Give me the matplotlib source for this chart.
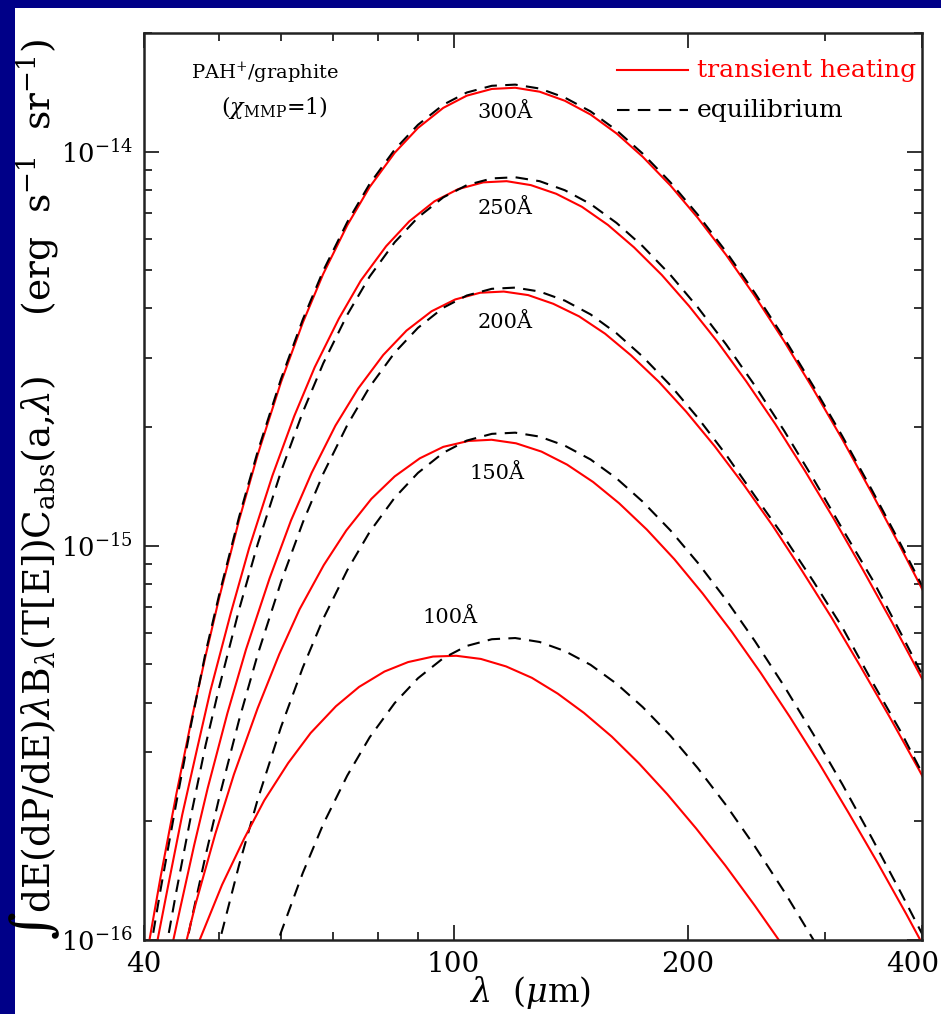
import matplotlib
matplotlib.use('Agg')
import matplotlib.pyplot as plt
import numpy as np
from matplotlib.patches import Rectangle
from matplotlib.ticker import NullFormatter
from matplotlib.transforms import ScaledTranslation

plt.rcParams['font.family'] = 'DejaVu Serif'
plt.rcParams['mathtext.fontset'] = 'dejavuserif'

# wavelengths (micron) and log10 of the emission (erg s^-1 sr^-1)
lam = [38, 40, 42, 44, 46, 48, 50, 53, 56, 60, 64, 68, 73, 78, 84, 90, 97, 104, 112, 120,
       129, 139, 150, 162, 175, 190, 206, 224, 244, 266, 290, 316, 345, 376, 410]

equil_300 = [-16.401, -16.121, -15.874, -15.654, -15.452, -15.271, -15.122, -14.927, -14.761, -14.577,
             -14.426, -14.302, -14.179, -14.082, -13.995, -13.932, -13.881, -13.850, -13.833, -13.830,
             -13.840, -13.863, -13.898, -13.946, -14.005, -14.078, -14.160, -14.254, -14.359, -14.473,
             -14.595, -14.722, -14.859, -14.998, -15.142]
equil_250 = [-16.626, -16.346, -16.099, -15.879, -15.682, -15.506, -15.357, -15.162, -14.996, -14.812,
             -14.661, -14.537, -14.414, -14.317, -14.230, -14.167, -14.116, -14.085, -14.068, -14.065,
             -14.075, -14.098, -14.133, -14.181, -14.240, -14.313, -14.395, -14.489, -14.594, -14.708,
             -14.830, -14.957, -15.084, -15.223, -15.367]
equil_200 = [-16.856, -16.586, -16.349, -16.139, -15.952, -15.786, -15.637, -15.442, -15.276, -15.092,
             -14.941, -14.817, -14.694, -14.597, -14.510, -14.447, -14.396, -14.365, -14.348, -14.345,
             -14.355, -14.378, -14.413, -14.461, -14.520, -14.593, -14.675, -14.769, -14.874, -14.978,
             -15.090, -15.207, -15.344, -15.473, -15.617]
equil_150 = [-17.224, -16.954, -16.717, -16.507, -16.320, -16.154, -16.005, -15.810, -15.644, -15.460,
             -15.309, -15.185, -15.062, -14.965, -14.878, -14.815, -14.764, -14.733, -14.716, -14.713,
             -14.723, -14.746, -14.781, -14.829, -14.888, -14.961, -15.043, -15.137, -15.242, -15.356,
             -15.478, -15.605, -15.742, -15.881, -16.025]
equil_100 = [-17.745, -17.475, -17.238, -17.028, -16.841, -16.675, -16.526, -16.331, -16.165, -15.981,
             -15.830, -15.706, -15.583, -15.486, -15.399, -15.336, -15.285, -15.254, -15.237, -15.234,
             -15.244, -15.267, -15.302, -15.350, -15.409, -15.482, -15.564, -15.658, -15.763, -15.877,
             -15.999, -16.126, -16.263, -16.402, -16.546]

trans_300 = [-16.349, -16.079, -15.842, -15.632, -15.445, -15.279, -15.130, -14.935, -14.769, -14.585,
             -14.434, -14.310, -14.187, -14.090, -14.003, -13.940, -13.889, -13.858, -13.841, -13.838,
             -13.848, -13.871, -13.906, -13.954, -14.013, -14.086, -14.168, -14.262, -14.367, -14.481,
             -14.603, -14.730, -14.867, -15.006, -15.150]

lam_t250 = [37.0, 39.0, 40.9, 42.9, 44.8, 46.8, 48.7, 51.7, 54.6, 58.5, 62.4, 66.3, 71.2, 76.0, 81.9,
            87.7, 94.5, 101.4, 109.2, 117.0, 125.7, 135.5, 146.2, 157.9, 170.6, 185.2, 200.8, 218.3,
            237.8, 259.3, 282.7, 308.0, 336.3, 366.5, 399.6, 438.6]
trans_250 = [-16.586, -16.316, -16.079, -15.869, -15.682, -15.516, -15.367, -15.172, -15.006, -14.822,
             -14.671, -14.547, -14.424, -14.327, -14.240, -14.177, -14.126, -14.095, -14.078, -14.075,
             -14.085, -14.107, -14.140, -14.186, -14.243, -14.313, -14.392, -14.482, -14.583, -14.692,
             -14.809, -14.931, -15.063, -15.196, -15.335, -15.489]

lam_t200 = [36.7, 38.7, 40.6, 42.5, 44.5, 46.4, 48.3, 51.2, 54.1, 58.0, 61.8, 65.7, 70.5, 75.4, 81.2,
            87.0, 93.7, 100.5, 108.2, 116.0, 124.7, 134.3, 145.0, 156.6, 169.1, 183.6, 199.1, 216.5,
            235.8, 257.1, 280.2, 305.4, 333.4, 363.4, 396.2, 434.9]
trans_200 = [-16.803, -16.540, -16.309, -16.104, -15.922, -15.760, -15.615, -15.425, -15.263, -15.083,
             -14.936, -14.815, -14.695, -14.601, -14.516, -14.454, -14.405, -14.375, -14.358, -14.355,
             -14.364, -14.386, -14.418, -14.462, -14.517, -14.584, -14.660, -14.747, -14.844, -14.949,
             -15.062, -15.179, -15.306, -15.434, -15.567, -15.716]

lam_t150 = [35.4, 37.3, 39.2, 41.0, 42.9, 44.8, 46.6, 49.4, 52.2, 56.0, 59.7, 63.4, 68.1, 72.8, 78.4,
            84.0, 90.5, 97.0, 104.5, 111.9, 120.3, 129.7, 139.9, 151.1, 163.2, 177.2, 192.2, 209.0,
            227.6, 248.1, 270.5, 294.8, 321.8, 350.7, 382.5, 419.8]
trans_150 = [-17.021, -16.775, -16.559, -16.367, -16.197, -16.045, -15.909, -15.731, -15.580, -15.412,
             -15.275, -15.161, -15.049, -14.961, -14.881, -14.824, -14.778, -14.749, -14.734, -14.731,
             -14.740, -14.761, -14.794, -14.838, -14.892, -14.959, -15.034, -15.121, -15.217, -15.322,
             -15.434, -15.551, -15.677, -15.804, -15.937, -16.085]

lam_t100 = [38.7, 40.3, 42.0, 44.5, 47.1, 50.4, 53.8, 57.1, 61.3, 65.5, 70.6, 75.6, 81.5, 87.4, 94.1,
            100.8, 108.4, 116.8, 126.1, 136.1, 147.1, 159.7, 173.1, 188.2, 205.0, 223.5, 243.7, 265.5,
            289.9, 316.0]
trans_100 = [-16.529, -16.400, -16.284, -16.132, -16.003, -15.860, -15.743, -15.646, -15.551, -15.475,
             -15.407, -15.358, -15.319, -15.295, -15.281, -15.279, -15.287, -15.306, -15.335, -15.375,
             -15.424, -15.484, -15.552, -15.630, -15.717, -15.811, -15.912, -16.017, -16.130, -16.245]

sizes = ['300Å', '250Å', '200Å', '150Å', '100Å']
trans = [(lam, trans_300), (lam_t250, trans_250), (lam_t200, trans_200), (lam_t150, trans_150), (lam_t100, trans_100)]
equil = [equil_300, equil_250, equil_200, equil_150, equil_100]
label_pos = [(0.464, 0.912), (0.464, 0.807), (0.464, 0.681), (0.454, 0.514), (0.393, 0.356)]

fig = plt.figure(figsize=(9.41, 10.14), dpi=100, facecolor='#000088')
fig.patches.append(Rectangle((15/941, 0), 1, 1 - 8/1014, transform=fig.transFigure,
                             facecolor='white', edgecolor='none', zorder=-10))
ax = fig.add_axes([0.153, 0.073, 0.8268, 0.8945])

for (x, t), e in zip(trans, equil):
    ax.plot(x, 10**np.array(t), color='red', lw=1.5)
    ax.plot(lam, 10**np.array(e), color='black', lw=1.5, ls=(0, (6, 4)))

for s, (px, py) in zip(sizes, label_pos):
    ax.text(px, py, s, transform=ax.transAxes, ha='center', va='center', fontsize=15)

ax.set_xscale('log')
ax.set_yscale('log')
ax.set_xlim(40, 400)
ax.set_ylim(1e-16, 2.0e-14)

ax.set_xticks([40, 100, 200, 400])
ax.set_xticklabels(['40', '100', '200', '400'])
ax.set_xticks([50, 60, 70, 80, 90, 300], minor=True)
ax.xaxis.set_minor_formatter(NullFormatter())
ax.set_yticks([1e-16, 1e-15, 1e-14])
ax.set_yticklabels([r'$10^{-16}$', r'$10^{-15}$', r'$10^{-14}$'])
ax.set_yticks([k*1e-16 for k in range(2, 10)] + [k*1e-15 for k in range(2, 10)] + [2e-14], minor=True)
ax.yaxis.set_minor_formatter(NullFormatter())

ax.tick_params(which='both', direction='in', top=True, right=True, width=1.3, color='#222222', labelsize=20)
ax.tick_params(axis='y', labelsize=18.5)
ax.tick_params(which='major', length=11, pad=8)
ax.tick_params(which='minor', length=6)
for sp in ax.spines.values():
    sp.set_linewidth(1.8)
    sp.set_color('#222222')

# keep the last x label inside the picture
lab400 = ax.get_xticklabels()[-1]
lab400.set_transform(lab400.get_transform() + ScaledTranslation(-9/100, 0, fig.dpi_scale_trans))

ax.set_xlabel(r'$\lambda$  ($\mu$m)', fontsize=24)
ax.xaxis.set_label_coords(0.496, -0.038)
ax.set_ylabel(r'$\int$dE(dP/dE)$\lambda$B$_\lambda$(T[E])C$_{\rm abs}$(a,$\lambda$)     (erg  s$^{-1}$  sr$^{-1}$)', fontsize=27)
ax.yaxis.set_label_coords(-0.106, 0.497)

# annotations and legend
ax.text(0.156, 0.956, r'PAH$^{+}$/graphite', transform=ax.transAxes, ha='center', va='center', fontsize=14)
ax.text(0.168, 0.918, r'($\chi_{\rm MMP}$=1)', transform=ax.transAxes, ha='center', va='center', fontsize=16)
ax.plot([0.608, 0.699], [0.959, 0.959], transform=ax.transAxes, color='red', lw=1.5)
ax.text(0.711, 0.959, 'transient heating', transform=ax.transAxes, color='red', va='center', fontsize=18)
ax.plot([0.608, 0.699], [0.915, 0.915], transform=ax.transAxes, color='black', lw=1.5, ls=(0, (6, 4)))
ax.text(0.711, 0.915, 'equilibrium', transform=ax.transAxes, color='black', va='center', fontsize=18)

fig.savefig('out.png', dpi=100, facecolor=fig.get_facecolor())
